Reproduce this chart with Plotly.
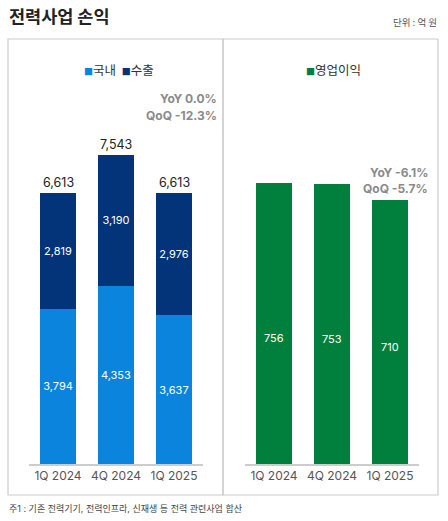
import plotly.graph_objects as go

W, H = 448, 521

quarters = ['1Q 2024', '4Q 2024', '1Q 2025']
domestic = [3794, 4353, 3637]
export = [2819, 3190, 2976]
totals = [6613, 7543, 6613]
op_profit = [756, 753, 710]

sales_change = ['YoY 0.0%', 'QoQ -12.3%']
profit_change = ['YoY -6.1%', 'QoQ -5.7%']

C_DOM = '#0A84DC'
C_EXP = '#03347A'
C_OP = '#017F3D'
KR = 'Noto Sans CJK KR'
NUM = 'Inter, Noto Sans CJK KR'


def px(x):
    return x / W


def py(y):
    return 1 - y / H


fig = go.Figure()

bar_text = dict(textposition='inside', insidetextanchor='middle', textangle=0,
                constraintext='none', textfont=dict(color='white', size=11, family=NUM))
fig.add_trace(go.Bar(x=quarters, y=domestic, name='국내', marker_color=C_DOM,
                     marker_line_width=0, text=[f'{v:,}' for v in domestic],
                     xaxis='x', yaxis='y', **bar_text))
fig.add_trace(go.Bar(x=quarters, y=export, name='수출', marker_color=C_EXP,
                     marker_line_width=0, text=[f'{v:,}' for v in export],
                     xaxis='x', yaxis='y', **bar_text))
fig.add_trace(go.Bar(x=quarters, y=op_profit, name='영업이익', marker_color=C_OP,
                     marker_line_width=0, xaxis='x2', yaxis='y2'))

# totals above stacked bars
for q, t in zip(quarters, totals):
    fig.add_annotation(x=q, y=t, xref='x', yref='y', text=f'{t:,}', showarrow=False,
                       yanchor='bottom', yshift=1,
                       font=dict(size=12.5, color='#222', family=NUM))

# profit labels sit a bit below the bar middle
for q, v in zip(quarters, op_profit):
    fig.add_annotation(x=q, y=v / 2, xref='x2', yref='y2', text=f'{v:,}', showarrow=False,
                       yshift=-15, font=dict(size=11, color='white', family=NUM))

# YoY / QoQ notes
note_font = dict(size=12, color='#8a8a8a', family=NUM, weight='bold')
for i, s in enumerate(sales_change):
    fig.add_annotation(x=px(219), y=py(99 + 16 * i), xref='paper', yref='paper', text=s,
                       showarrow=False, xanchor='right', yanchor='middle', font=note_font)
for i, s in enumerate(profit_change):
    fig.add_annotation(x=px(430), y=py(172 + 16 * i), xref='paper', yref='paper', text=s,
                       showarrow=False, xanchor='right', yanchor='middle', font=note_font)

# legends drawn as small squares + labels
sq = '<span style="font-size:9px;color:{}">■</span>'
fig.add_annotation(x=px(119), y=py(70), xref='paper', yref='paper',
                   text=sq.format(C_DOM) + '국내  ' + sq.format(C_EXP) + '수출',
                   showarrow=False, xanchor='center', yanchor='middle',
                   font=dict(size=12.5, color='#333', family=KR))
fig.add_annotation(x=px(333), y=py(70), xref='paper', yref='paper',
                   text=sq.format(C_OP) + '영업이익',
                   showarrow=False, xanchor='center', yanchor='middle',
                   font=dict(size=12.5, color='#333', family=KR))

# title, unit and footnote
fig.add_annotation(x=px(7), y=py(16), xref='paper', yref='paper', text='<b>전력사업 손익</b>',
                   showarrow=False, xanchor='left', yanchor='middle',
                   font=dict(size=17.5, color='#222', family=KR))
fig.add_annotation(x=px(439), y=py(22), xref='paper', yref='paper', text='단위 : 억 원',
                   showarrow=False, xanchor='right', yanchor='middle',
                   font=dict(size=9.5, color='#555', family=KR))
fig.add_annotation(x=px(7), y=py(508), xref='paper', yref='paper',
                   text='주1 : 기존 전력기기, 전력인프라, 신재생 등 전력 관련사업 합산',
                   showarrow=False, xanchor='left', yanchor='middle',
                   font=dict(size=9, color='#444', family=NUM))

# panel frames
for x0, x1 in [(8, 223), (223, 438)]:
    fig.add_shape(type='rect', xref='paper', yref='paper', x0=px(x0), x1=px(x1),
                  y0=py(495), y1=py(39), line=dict(color='#cccccc', width=1.2))

base = py(464)
top = py(100)
axis_common = dict(showline=True, linecolor='#cccccc', linewidth=1.5, ticks='',
                   tickfont=dict(size=12, color='#555', family=NUM), fixedrange=True)
yaxis_common = dict(visible=False, showgrid=False, zeroline=False, fixedrange=True)

fig.update_layout(
    width=W, height=H,
    margin=dict(l=0, r=0, t=0, b=0),
    paper_bgcolor='white', plot_bgcolor='white',
    barmode='stack', bargap=0.38,
    font=dict(family=KR),
    xaxis=dict(domain=[px(29), px(203)], anchor='y', **axis_common),
    yaxis=dict(domain=[base, top], range=[0, 8885], anchor='x', **yaxis_common),
    xaxis2=dict(domain=[px(245), px(419)], anchor='y2', **axis_common),
    yaxis2=dict(domain=[base, top], range=[0, 978], anchor='x2', **yaxis_common),
    showlegend=False,
)

fig.write_html('out.html', config={'displayModeBar': False},
               post_script="document.body.style.margin='0';")
